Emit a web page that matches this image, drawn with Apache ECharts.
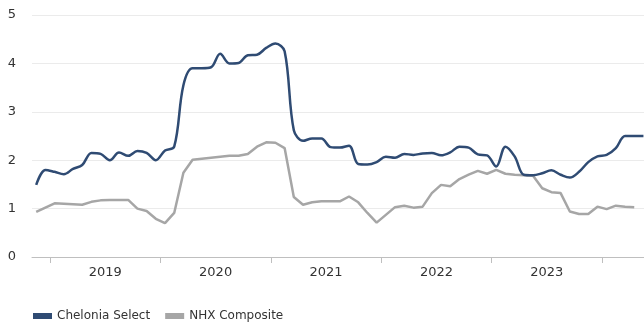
<!DOCTYPE html>
<html>
<head>
<meta charset="utf-8">
<script src="https://cdn.jsdelivr.net/npm/echarts@6/dist/echarts.min.js"></script>
<style>html,body{margin:0;padding:0;background:#fff}#c{width:644px;height:329px}</style>
</head>
<body>
<div id="c"></div>
<script>
// Monthly observations, Nov 2018 .. May 2024
const startYear = 2018, startMonth = 11;
const chelonia = [1.49,1.80,1.76,1.71,1.82,1.90,2.15,2.13,2.00,2.16,2.09,2.19,2.15,2.00,
  2.20,2.28,3.55,3.90,3.90,3.92,4.20,4.00,4.01,4.17,4.18,4.32,
  4.41,4.25,2.62,2.40,2.45,2.45,2.27,2.26,2.30,1.92,1.91,1.96,
  2.07,2.05,2.13,2.11,2.14,2.15,2.10,2.16,2.28,2.26,2.12,2.10,
  1.87,2.28,2.08,1.70,1.69,1.73,1.79,1.70,1.64,1.76,1.96,2.08,
  2.11,2.25,2.50,2.50,2.50];
const nhx = [0.93,1.02,1.11,1.10,1.09,1.08,1.14,1.17,1.18,1.18,1.18,1.00,0.95,0.79,
  0.70,0.91,1.74,2.01,2.03,2.05,2.07,2.09,2.09,2.13,2.28,2.37,
  2.36,2.25,1.24,1.08,1.13,1.15,1.15,1.15,1.25,1.13,0.91,0.71,
  0.87,1.03,1.06,1.02,1.04,1.32,1.49,1.46,1.61,1.70,1.78,1.72,
  1.80,1.72,1.70,1.69,1.68,1.42,1.34,1.32,0.94,0.89,0.89,1.04,
  0.99,1.06,1.04,1.03];
const yearTicks = [2019,2020,2021,2022,2023,2024];
const yearLabels = ['2019','2020','2021','2022','2023'];
const seriesNames = ['Chelonia Select','NHX Composite'];

function monthPos(i){ // mid-month in decimal years
  const m = (startMonth - 1) + i;
  return startYear + (m + 0.5) / 12;
}
const toPairs = arr => arr.map((v,i)=>[monthPos(i), v]);

const chart = echarts.init(document.getElementById('c'));
const font = 'DejaVu Sans, Verdana, sans-serif';
chart.setOption({
  animation:false,
  textStyle:{fontFamily:font},
  grid:{left:32,right:0,top:15,bottom:72},
  legend:{
    data:seriesNames, left:28, top:305, icon:'rect', itemWidth:19, itemHeight:6, itemGap:15,
    padding:[5,5,5,5],
    textStyle:{fontFamily:font,fontSize:12,color:'#333'}
  },
  xAxis:{
    type:'value', min:2018.837, max:2024.38,
    axisLine:{show:true,lineStyle:{color:'#bfbfbf',width:1}},
    axisTick:{show:true,length:6,lineStyle:{color:'#bfbfbf'},customValues:yearTicks},
    axisLabel:{customValues:yearLabels.map(y=>+y+0.5),formatter:v=>String(Math.floor(v)),
      fontSize:13,color:'#333',margin:9,fontFamily:font},
    splitLine:{show:false}
  },
  yAxis:{
    type:'value', min:0, max:5, interval:1,
    axisLine:{show:false}, axisTick:{show:false},
    axisLabel:{fontSize:13,color:'#333',margin:16,fontFamily:font},
    splitLine:{lineStyle:{color:'#ebebeb',width:1}}
  },
  series:[
    {name:seriesNames[0],type:'line',data:toPairs(chelonia),smooth:0.35,showSymbol:false,
      lineStyle:{color:'#2f4b73',width:2.5},itemStyle:{color:'#2f4b73'},z:3},
    {name:seriesNames[1],type:'line',data:toPairs(nhx),smooth:false,showSymbol:false,
      lineStyle:{color:'#a6a6a6',width:2.5},itemStyle:{color:'#a6a6a6'},z:2}
  ]
});
</script>
</body>
</html>
